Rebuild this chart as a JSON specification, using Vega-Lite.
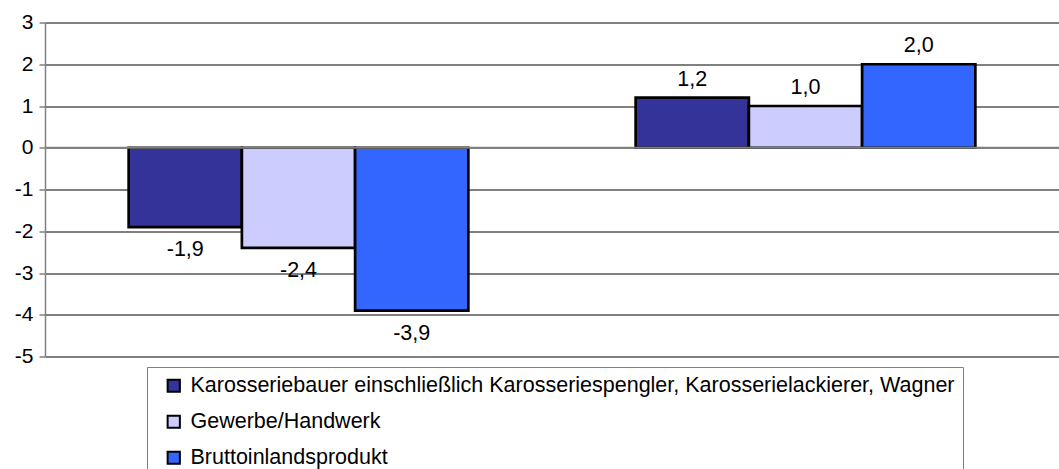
{
  "$schema": "https://vega.github.io/schema/vega-lite/v6.json",
  "width": 1014,
  "height": 334,
  "autosize": "none",
  "padding": {"left": 45, "top": 22.5, "right": 0, "bottom": 112.5},
  "background": "white",
  "config": {
    "locale": {"number": {"decimal": ",", "thousands": ".", "grouping": [3], "currency": ["", " €"], "minus": "-"}},
    "view": {"stroke": null},
    "font": "Liberation Sans"
  },
  "data": {
    "values": [
      {"gruppe": "A", "reihe": "Karosseriebauer einschließlich Karosseriespengler, Karosserielackierer, Wagner", "wert": -1.9},
      {"gruppe": "A", "reihe": "Gewerbe/Handwerk", "wert": -2.4},
      {"gruppe": "A", "reihe": "Bruttoinlandsprodukt", "wert": -3.9},
      {"gruppe": "B", "reihe": "Karosseriebauer einschließlich Karosseriespengler, Karosserielackierer, Wagner", "wert": 1.2},
      {"gruppe": "B", "reihe": "Gewerbe/Handwerk", "wert": 1.0},
      {"gruppe": "B", "reihe": "Bruttoinlandsprodukt", "wert": 2.0}
    ]
  },
  "layer": [
    {
      "mark": {"type": "bar", "stroke": "#000000", "strokeWidth": 2.7},
      "encoding": {
        "x": {"field": "gruppe", "type": "nominal", "axis": null,
              "scale": {"paddingInner": 0.33, "paddingOuter": 0.165}},
        "xOffset": {"field": "reihe", "type": "nominal", "sort": ["Karosseriebauer einschließlich Karosseriespengler, Karosserielackierer, Wagner", "Gewerbe/Handwerk", "Bruttoinlandsprodukt"], "scale": {"paddingInner": 0, "paddingOuter": 0}},
        "y": {"field": "wert", "type": "quantitative",
              "scale": {"domain": [-5, 3], "nice": false, "zero": false},
              "axis": {"title": null, "values": [-5, -4, -3, -2, -1, 0, 1, 2, 3], "format": "d",
                       "grid": true, "gridColor": "#000000", "gridWidth": 1, "gridOpacity": 1,
                       "domainColor": "#808080", "domainWidth": 1.5, "tickColor": "#808080", "tickSize": 6, "tickWidth": 1.5,
                       "labelFontSize": 21, "labelColor": "#000000", "labelPadding": 6, "labelFont": "Liberation Sans"}},
        "color": {"field": "reihe", "type": "nominal",
                  "sort": ["Karosseriebauer einschließlich Karosseriespengler, Karosserielackierer, Wagner", "Gewerbe/Handwerk", "Bruttoinlandsprodukt"],
                  "scale": {"domain": ["Karosseriebauer einschließlich Karosseriespengler, Karosserielackierer, Wagner", "Gewerbe/Handwerk", "Bruttoinlandsprodukt"],
                            "range": ["#333399", "#CCCCFF", "#3366FF"]},
                  "legend": {"title": null, "orient": "none", "legendX": 102, "legendY": 344.5,
                             "direction": "vertical", "symbolType": "square", "symbolSize": 150,
                             "symbolStrokeColor": "#000000", "symbolStrokeWidth": 2, "symbolOpacity": 1,
                             "symbolOffset": 8,
                             "labelFontSize": 21.5, "labelFont": "Liberation Sans", "labelColor": "#000000",
                             "labelLimit": 1000, "labelOffset": 6, "rowPadding": 13,
                             "strokeColor": "#808080", "padding": 8, "fillColor": "white"}}
      }
    },
    {
      "transform": [{"filter": "datum.wert >= 0"}],
      "mark": {"type": "text", "baseline": "bottom", "dy": -7, "fontSize": 21.5, "color": "#000000", "font": "Liberation Sans"},
      "encoding": {
        "x": {"field": "gruppe", "type": "nominal"},
        "xOffset": {"field": "reihe", "type": "nominal", "sort": ["Karosseriebauer einschließlich Karosseriespengler, Karosserielackierer, Wagner", "Gewerbe/Handwerk", "Bruttoinlandsprodukt"]},
        "y": {"field": "wert", "type": "quantitative"},
        "text": {"field": "wert", "type": "quantitative", "format": ".1f"}}
    },
    {
      "transform": [{"filter": "datum.wert < 0"}],
      "mark": {"type": "text", "baseline": "top", "dy": 12, "fontSize": 21.5, "color": "#000000", "font": "Liberation Sans"},
      "encoding": {
        "x": {"field": "gruppe", "type": "nominal"},
        "xOffset": {"field": "reihe", "type": "nominal", "sort": ["Karosseriebauer einschließlich Karosseriespengler, Karosserielackierer, Wagner", "Gewerbe/Handwerk", "Bruttoinlandsprodukt"]},
        "y": {"field": "wert", "type": "quantitative"},
        "text": {"field": "wert", "type": "quantitative", "format": ".1f"}}
    },
    {
      "data": {"values": [{"y0": 0}]},
      "mark": {"type": "rule", "color": "#808080", "strokeWidth": 2},
      "encoding": {"y": {"field": "y0", "type": "quantitative"}, "x": {"value": 0}, "x2": {"value": 1014}}
    }
  ]
}
